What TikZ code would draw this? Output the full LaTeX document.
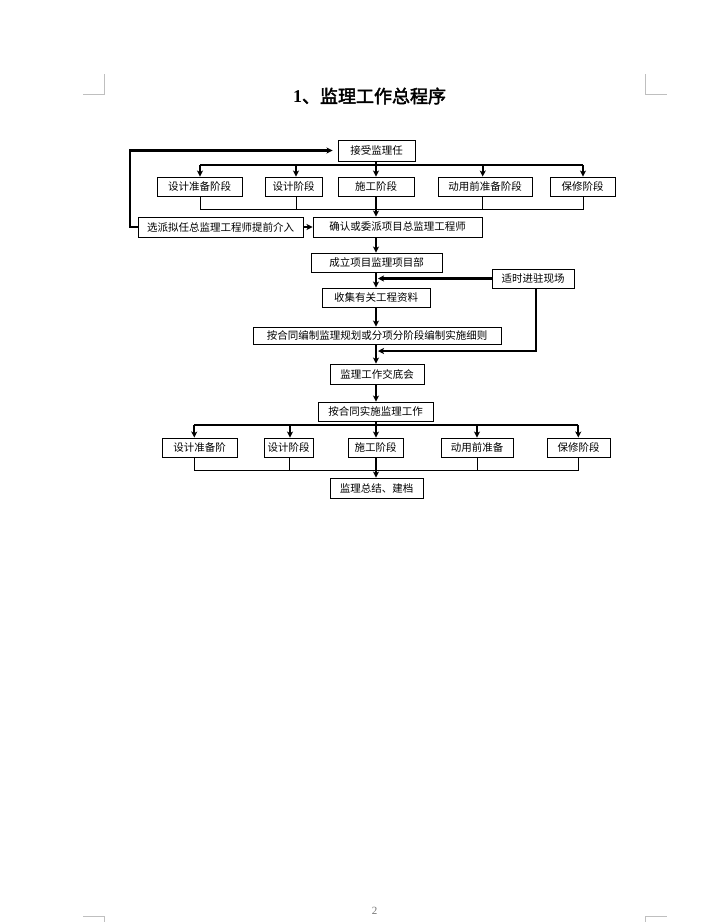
\documentclass[tikz,border=0pt]{standalone}
\usepackage{fontspec}
\usetikzlibrary{arrows.meta}
\newfontfamily\cjk{Noto Sans CJK SC}
\newfontfamily\cjkb[FakeBold=2.5]{Noto Sans CJK SC}
\newfontfamily\tserif{Liberation Serif}
\begin{document}
\begin{tikzpicture}[x=1pt,y=-1pt,
  box/.style={draw,line width=0.9pt,inner sep=0pt,font=\cjk\fontsize{10.5}{12}\selectfont},
  thk/.style={line width=2.2pt},
  thn/.style={line width=0.9pt},
  arr/.style={thk,-{Stealth[length=6pt,width=6pt,inset=1.5pt]}},
  crop/.style={draw=black!25,line width=0.9pt}]
\useasboundingbox (0,0) rectangle (710,922);
% crop marks
\draw[crop] (83,94) -- (104.3,94) -- (104.3,74);
\draw[crop] (666.5,94) -- (645.3,94) -- (645.3,74);
\draw[crop] (83,916) -- (104.3,916) -- (104.3,922);
\draw[crop] (666.5,916) -- (645.3,916) -- (645.3,922);
% title and page number
\node[inner sep=0pt] (title) at (369.5,96) {{\tserif\fontsize{18}{20}\selectfont\bfseries 1}{\cjkb\fontsize{18}{20}\selectfont 、监理工作总程序}};
\node[inner sep=0pt,text=black!55] (pg) at (374.5,911) {\tserif\fontsize{11}{11}\selectfont 2};
% coordinates
\coordinate (spine) at (376,0);
% nodes upper part
\node[box,minimum width=77,minimum height=21] (accept) at (376.5,150.5) {接受监理任};
\node[box,minimum width=85,minimum height=19] (s1) at (199.5,186.5) {设计准备阶段};
\node[box,minimum width=57,minimum height=19] (s2) at (293.5,186.5) {设计阶段};
\node[box,minimum width=76,minimum height=19] (s3) at (376,186.5) {施工阶段};
\node[box,minimum width=94,minimum height=19] (s4) at (485,186.5) {动用前准备阶段};
\node[box,minimum width=65,minimum height=19] (s5) at (582.5,186.5) {保修阶段};
\node[box,minimum width=165,minimum height=20] (sel) at (220.5,227) {选派拟任总监理工程师提前介入};
\node[box,minimum width=169,minimum height=20] (conf) at (397.5,227) {确认或委派项目总监理工程师};
\node[box,minimum width=131,minimum height=19] (est) at (376.5,262.5) {成立项目监理项目部};
\node[box,minimum width=82,minimum height=19] (enter) at (533,278.5) {适时进驻现场};
\node[box,minimum width=108,minimum height=19] (coll) at (376,297.5) {收集有关工程资料};
\node[box,minimum width=248,minimum height=17] (plan) at (377,335.5) {按合同编制监理规划或分项分阶段编制实施细则};
\node[box,minimum width=94,minimum height=20] (meet) at (377,374) {监理工作交底会};
\node[box,minimum width=115,minimum height=19] (impl) at (375.5,411.5) {按合同实施监理工作};
\node[box,minimum width=75,minimum height=19] (t1) at (199.5,447.5) {设计准备阶};
\node[box,minimum width=49,minimum height=19] (t2) at (288.5,447.5) {设计阶段};
\node[box,minimum width=55,minimum height=19] (t3) at (375.5,447.5) {施工阶段};
\node[box,minimum width=72,minimum height=19] (t4) at (477,447.5) {动用前准备};
\node[box,minimum width=63,minimum height=19] (t5) at (578.5,447.5) {保修阶段};
\node[box,minimum width=93,minimum height=20] (sum) at (376.5,488) {监理总结、建档};
% bus coordinates upper
\coordinate (ba) at (200,165);
\coordinate (bb) at (296,165);
\coordinate (bc) at (376,165);
\coordinate (bd) at (482.7,165);
\coordinate (be) at (583,165);
\coordinate (la) at (200,209);
\coordinate (lb) at (296.5,209);
\coordinate (lc) at (482.7,209);
\coordinate (ld) at (583,209);
% upper connectors
\draw[thk] (accept.south -| spine) -- (bc);
\draw[thk] (ba) -- (be);
\draw[arr] (ba) -- (s1.north -| ba);
\draw[arr] (bb) -- (s2.north -| bb);
\draw[arr] (bc) -- (s3.north -| bc);
\draw[arr] (bd) -- (s4.north -| bd);
\draw[arr] (be) -- (s5.north -| be);
\draw[thn] (s1.south -| la) -- (la) -- (ld) -- (s5.south -| ld);
\draw[thn] (s2.south -| lb) -- (lb);
\draw[thn] (s4.south -| lc) -- (lc);
\draw[arr] (s3.south -| spine) -- (conf.north -| spine);
\coordinate (fb) at (130,227);
\draw[arr,shorten >=5pt] (sel.west) -- (fb) |- (accept.west);
\draw[arr] (sel.east) -- (conf.west);
\draw[arr] (conf.south -| spine) -- (est.north -| spine);
\draw[arr] (est.south -| spine) -- (coll.north -| spine);
\draw[arr,shorten >=2pt] (enter.west) -- (enter.west -| spine);
\draw[arr] (coll.south -| spine) -- (plan.north -| spine);
\coordinate (ent) at (536,288);
\coordinate (entb) at (376,351);
\draw[arr,shorten >=2pt] (ent) |- (entb);
\draw[arr] (plan.south -| spine) -- (meet.north -| spine);
\draw[arr] (meet.south -| spine) -- (impl.north -| spine);
% lower bus
\coordinate (ca) at (194.3,425);
\coordinate (cb) at (290,425);
\coordinate (cc) at (376,425);
\coordinate (cd) at (477,425);
\coordinate (ce) at (578.3,425);
\coordinate (ma) at (194.3,470);
\coordinate (mb) at (289.3,470);
\coordinate (md) at (477.3,470);
\coordinate (me) at (578.3,470);
\draw[thk] (impl.south -| spine) -- (cc);
\draw[thk] (ca) -- (ce);
\draw[arr] (ca) -- (t1.north -| ca);
\draw[arr] (cb) -- (t2.north -| cb);
\draw[arr] (cc) -- (t3.north -| cc);
\draw[arr] (cd) -- (t4.north -| cd);
\draw[arr] (ce) -- (t5.north -| ce);
\draw[thn] (t1.south -| ma) -- (ma) -- (me) -- (t5.south -| me);
\draw[thn] (t2.south -| mb) -- (mb);
\draw[thn] (t4.south -| md) -- (md);
\draw[arr] (t3.south -| spine) -- (sum.north -| spine);
\end{tikzpicture}
\end{document}
